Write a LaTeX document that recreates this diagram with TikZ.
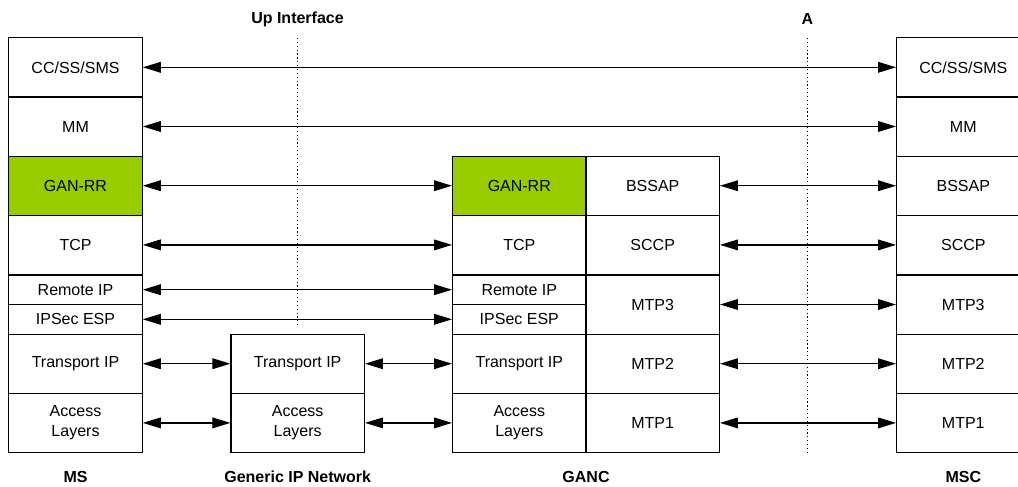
\documentclass[tikz,border=0pt]{standalone}
\usepackage{fontspec}
\setmainfont{Liberation Sans}
\usetikzlibrary{arrows.meta}
\definecolor{ganGreen}{HTML}{99CC00}
\begin{document}
\begin{tikzpicture}[x=0.75pt,y=-0.75pt,
  every node/.style={font=\fontsize{12}{15}\selectfont},
  lay/.style={draw, line width=0.9pt, fill=white, inner sep=0pt, minimum width=100pt, minimum height=44.4pt, align=center},
  half/.style={lay, minimum height=22.2pt},
  green/.style={fill=ganGreen},
  link/.style={line width=1pt, {Triangle[length=13.5pt,width=8pt]}-{Triangle[length=13.5pt,width=8pt]}},
  sep/.style={dotted, line width=0.9pt},
  caption/.style={font=\fontsize{12}{15}\selectfont\bfseries}]
\useasboundingbox (0,0) rectangle (1018,486);
\clip (0,0) rectangle (1018,486);
\newcommand{\twoline}[2]{\raisebox{-1.5pt}{\parbox{90pt}{\centering #1\\#2}}}

% separators
\coordinate (upT) at (297.5,38);
\coordinate (upB) at (297.5,326);
\coordinate (aT) at (807.5,38);
\coordinate (aB) at (807.5,452);
\draw[sep] (upT) -- (upB);
\draw[sep] (aT) -- (aB);
\node[caption] (lblUp) at (297.5,19) {Up Interface};
\node[caption] (lblA) at (807.5,19) {A};

% MS
\node[lay] (ms1) at (75.5,67.3) {CC/SS/SMS};
\node[lay] (ms2) at (75.5,126.5) {MM};
\node[lay,green] (ms3) at (75.5,185.7) {GAN-RR};
\node[lay] (ms4) at (75.5,244.9) {TCP};
\node[half] (ms5) at (75.5,289.7) {Remote IP};
\node[half] (ms6) at (75.5,319.3) {IPSec ESP};
\node[lay] (ms7) at (75.5,363.7) {Transport IP};
\node[lay] (ms8) at (75.5,422.9) {\twoline{Access}{Layers}};

% Generic IP network
\node[lay] (ip1) at (297.7,363.7) {Transport IP};
\node[lay] (ip2) at (297.7,422.9) {\twoline{Access}{Layers}};

% GANC left
\node[lay,green] (g3) at (519.3,185.7) {GAN-RR};
\node[lay] (g4) at (519.3,244.9) {TCP};
\node[half] (g5) at (519.3,289.7) {Remote IP};
\node[half] (g6) at (519.3,319.3) {IPSec ESP};
\node[lay] (g7) at (519.3,363.7) {Transport IP};
\node[lay] (g8) at (519.3,422.9) {\twoline{Access}{Layers}};
% GANC right
\node[lay] (gr1) at (652.7,185.7) {BSSAP};
\node[lay] (gr2) at (652.7,244.9) {SCCP};
\node[lay] (gr3) at (652.7,304.5) {MTP3};
\node[lay] (gr4) at (652.7,363.7) {MTP2};
\node[lay] (gr5) at (652.7,422.9) {MTP1};

% MSC (box runs past the right edge)
\node[lay] (msc1) at (963.3,67.3) {CC/SS/SMS};
\node[lay] (msc2) at (963.3,126.5) {MM};
\node[lay] (msc3) at (963.3,185.7) {BSSAP};
\node[lay] (msc4) at (963.3,244.9) {SCCP};
\node[lay] (msc5) at (963.3,304.5) {MTP3};
\node[lay] (msc6) at (963.3,363.7) {MTP2};
\node[lay] (msc7) at (963.3,422.9) {MTP1};

% connectors
\draw[link] (ms1.east) -- (msc1.west);
\draw[link] (ms2.east) -- (msc2.west);
\draw[link] (ms3.east) -- (g3.west);
\draw[link] (ms4.east) -- (g4.west);
\draw[link] (ms5.east) -- (g5.west);
\draw[link] (ms6.east) -- (g6.west);
\draw[link] (ms7.east) -- (ip1.west);
\draw[link] (ms8.east) -- (ip2.west);
\draw[link] (ip1.east) -- (g7.west);
\draw[link] (ip2.east) -- (g8.west);
\draw[link] (gr1.east) -- (msc3.west);
\draw[link] (gr2.east) -- (msc4.west);
\draw[link] (gr3.east) -- (msc5.west);
\draw[link] (gr4.east) -- (msc6.west);
\draw[link] (gr5.east) -- (msc7.west);

% captions
\node[caption] (capMS) at (75.5,477) {MS};
\node[caption] (capIP) at (297.7,477) {Generic IP Network};
\node[caption] (capG) at (586,477) {GANC};
\node[caption] (capMSC) at (963.3,477) {MSC};
\end{tikzpicture}
\end{document}
